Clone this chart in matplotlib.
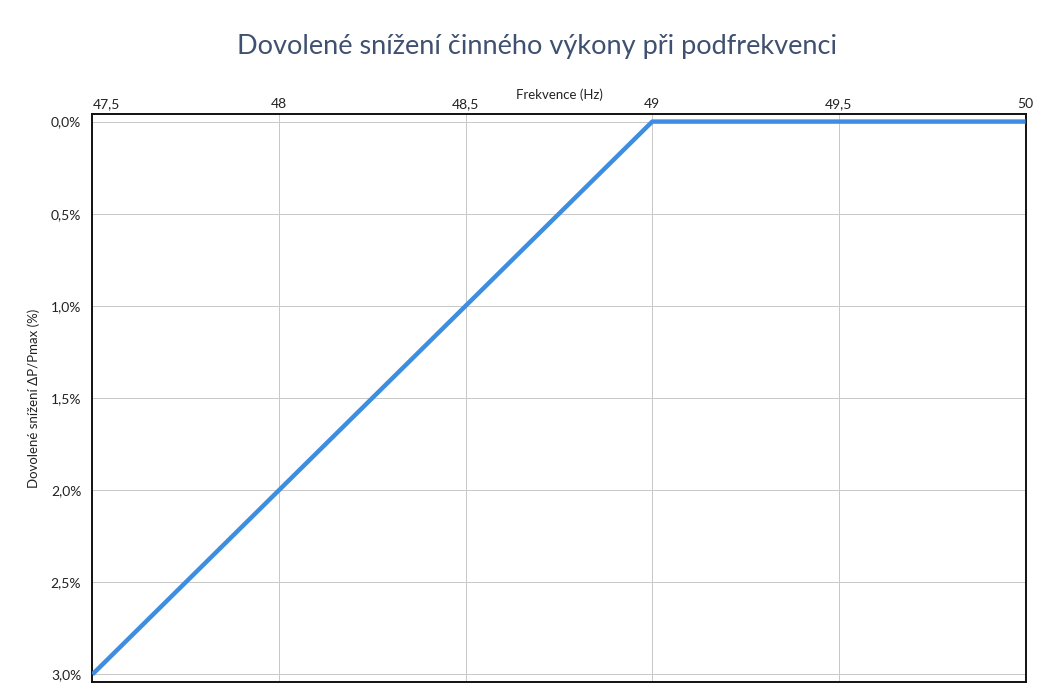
import matplotlib.pyplot as plt
from matplotlib.ticker import FuncFormatter

freq = [47.5, 49.0, 50.0]
reduction = [3.0, 0.0, 0.0]
x_ticks = [47.5, 48.0, 48.5, 49.0, 49.5, 50.0]
y_ticks = [0.0, 0.5, 1.0, 1.5, 2.0, 2.5, 3.0]

title = 'Dovolené snížení činného výkony při podfrekvenci'
x_label = 'Frekvence (Hz)'
y_label = 'Dovolené snížení ΔP/Pmax (%)'

plt.rcParams['font.family'] = ['Lato', 'DejaVu Sans']

fig = plt.figure(figsize=(10.38, 6.88), dpi=100)
ax = fig.add_axes([0.089, 0.009, 0.899, 0.825])

ax.plot(freq, reduction, color='#3d8ee0', linewidth=3.2, solid_capstyle='butt', zorder=3)

ax.set_xlim(47.5, 50.0)
ax.set_ylim(3.04, -0.04)
ax.set_xticks(x_ticks)
ax.set_yticks(y_ticks)
ax.xaxis.set_major_formatter(FuncFormatter(lambda v, p: f'{v:g}'.replace('.', ',')))
ax.yaxis.set_major_formatter(FuncFormatter(lambda v, p: f'{v:.1f}%'.replace('.', ',')))
ax.xaxis.tick_top()
ax.xaxis.set_label_position('top')
ax.tick_params(axis='both', length=0, labelsize=10, colors='#222222', pad=8)
ax.tick_params(axis='x', pad=3)
for lbl in ax.get_xticklabels():
    lbl.set_horizontalalignment('left' if lbl.get_text() == '47,5' else 'center')

ax.grid(True, color='#c8c8c8', linewidth=0.7)
for s in ax.spines.values():
    s.set_color('#111111')
    s.set_linewidth(1.4)

ax.set_xlabel(x_label, fontsize=9.5, color='#222222', labelpad=-1)
ax.set_ylabel(y_label, fontsize=9.5, color='#222222', labelpad=8)
fig.text(0.517, 0.933, title, ha='center', va='center', fontsize=19.5, color='#3f5070')

fig.savefig('out.png', dpi=100)
